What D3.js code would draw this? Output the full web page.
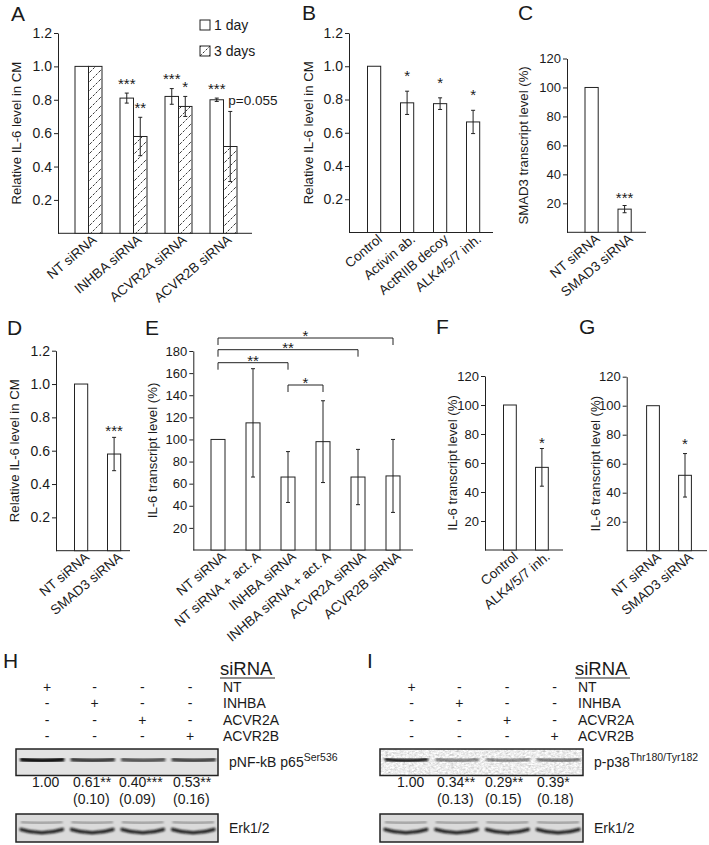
<!DOCTYPE html>
<html><head><meta charset="utf-8">
<script src="https://cdn.jsdelivr.net/npm/d3@7"></script>
<style>
body{margin:0;background:#fff}
svg{display:block}
text{font-family:"Liberation Sans",Arial,Helvetica,sans-serif;fill:#1a1a1a}
</style>
</head><body>
<svg id="fig" width="709" height="845"></svg>
<script>
// ---------------- DATA ----------------
const yTicksCM = [0.2, 0.4, 0.6, 0.8, 1.0, 1.2];
const yTicksPct120 = [20, 40, 60, 80, 100, 120];
const yTicksPct180 = [20, 40, 60, 80, 100, 120, 140, 160, 180];

const aCategories = ["NT siRNA", "INHBA siRNA", "ACVR2A siRNA", "ACVR2B siRNA"];
const aSeries = ["1 day", "3 days"];
const aDay1 = [1.00, 0.81, 0.82, 0.80];
const aDay1Err = [0, 0.03, 0.047, 0.01];
const aDay1Sig = ["", "***", "***", "***"];
const aDay3 = [1.00, 0.58, 0.76, 0.52];
const aDay3Err = [0, 0.115, 0.06, 0.21];
const aDay3Sig = ["", "**", "*", "p=0.055"];

const bCategories = ["Control", "Activin ab.", "ActRIIB decoy", "ALK4/5/7 inh."];
const bValues = [1.00, 0.78, 0.775, 0.665];
const bErr = [0, 0.07, 0.035, 0.07];
const bSig = ["", "*", "*", "*"];

const cCategories = ["NT siRNA", "SMAD3 siRNA"];
const cValues = [100, 16];
const cErr = [0, 2.5];
const cSig = ["", "***"];

const dCategories = ["NT siRNA", "SMAD3 siRNA"];
const dValues = [1.00, 0.58];
const dErr = [0, 0.10];
const dSig = ["", "***"];

const eCategories = ["NT siRNA", "NT siRNA + act. A", "INHBA siRNA", "INHBA siRNA + act. A", "ACVR2A siRNA", "ACVR2B siRNA"];
const eValues = [100, 115, 66, 98, 66, 67];
const eErr = [0, 49, 23, 37, 25, 33];
const eSig = ["", "", "", "", "", ""];
const eBrackets = [[0, 2, "**"], [0, 4, "**"], [0, 5, "*"], [2, 3, "*"]];

const fCategories = ["Control", "ALK4/5/7 inh."];
const fValues = [100, 57];
const fErr = [0, 13];
const fSig = ["", "*"];

const gCategories = ["NT siRNA", "SMAD3 siRNA"];
const gValues = [100, 52];
const gErr = [0, 15];
const gSig = ["", "*"];

const blotLanes = ["NT", "INHBA", "ACVR2A", "ACVR2B"];
const hTarget = ["pNF-kB p65", "Ser536"];
const hValues = [1.00, 0.61, 0.40, 0.53];
const hSD = [null, 0.10, 0.09, 0.16];
const hSig = ["", "**", "***", "**"];
const iTarget = ["p-p38", "Thr180/Tyr182"];
const iValues = [1.00, 0.34, 0.29, 0.39];
const iSD = [null, 0.13, 0.15, 0.18];
const iSig = ["", "**", "**", "*"];

// ---------------- DRAWING ----------------
const svg = d3.select("#fig");
const INK = "#222";
const defs = svg.append("defs");

const pat = defs.append("pattern").attr("id", "hatch").attr("patternUnits", "userSpaceOnUse")
  .attr("width", 9).attr("height", 9);
pat.append("rect").attr("width", 9).attr("height", 9).attr("fill", "#fff");
pat.append("path").attr("d", "M0,9 L9,0 M-2,2 L2,-2 M7,11 L11,7")
  .attr("stroke", "#333").attr("stroke-width", 1).attr("stroke-dasharray", "2.5,1.5");

const blur = defs.append("filter").attr("id", "blur").attr("x", "-20%").attr("y", "-100%").attr("width", "140%").attr("height", "300%");
blur.append("feGaussianBlur").attr("stdDeviation", 1.1);

const grain = defs.append("filter").attr("id", "grain").attr("x", 0).attr("y", 0).attr("width", "100%").attr("height", "100%");
grain.append("feTurbulence").attr("type", "fractalNoise").attr("baseFrequency", "0.35 0.55").attr("numOctaves", 3).attr("seed", 7).attr("result", "n");
grain.append("feColorMatrix").attr("in", "n").attr("type", "matrix")
  .attr("values", "0.33 0.33 0.33 0 0  0.33 0.33 0.33 0 0  0.33 0.33 0.33 0 0  0 0 0 0 1").attr("result", "g");
const ct = grain.append("feComponentTransfer").attr("in", "g").attr("result", "c");
["feFuncR", "feFuncG", "feFuncB"].forEach(f => ct.append(f).attr("type", "linear").attr("slope", 1.3).attr("intercept", 0.2));
grain.append("feComposite").attr("in", "c").attr("in2", "SourceGraphic").attr("operator", "in");

function letter(t, x, y) {
  svg.append("text").attr("x", x).attr("y", y).attr("font-size", 21).text(t);
}

function yAxis(g, y, axisX, ticks, fmt, fs) {
  const ax = d3.axisLeft(y).tickValues(ticks).tickSize(4).tickSizeOuter(0).tickPadding(2).tickFormat(fmt);
  const a = g.append("g").attr("transform", `translate(${axisX},0)`).call(ax);
  a.attr("font-family", null).attr("font-size", null);
  a.selectAll("path,line").attr("stroke", INK).attr("stroke-width", 1);
  a.selectAll("text").attr("font-size", fs).attr("fill", "#1a1a1a");
}

function yTitle(g, text, x, y) {
  g.append("text").attr("transform", `translate(${x},${y}) rotate(-90)`)
    .attr("text-anchor", "middle").attr("dy", "0.35em").attr("font-size", 13.2).text(text);
}

function catLabels(g, cats, cx, base) {
  g.selectAll(null).data(cats).enter().append("text")
    .attr("transform", d => `translate(${cx(d) + 9},${base + 8}) rotate(-40)`)
    .attr("text-anchor", "end").attr("font-size", 13.5).text(d => d);
}

function errBar(g, cx, y, v, e) {
  if (!e) return;
  g.append("line").attr("x1", cx).attr("x2", cx).attr("y1", y(v - e)).attr("y2", y(v + e)).attr("stroke", INK);
  [v - e, v + e].forEach(t => g.append("line").attr("x1", cx - 2).attr("x2", cx + 2)
    .attr("y1", y(t)).attr("y2", y(t)).attr("stroke", INK));
}

function star(g, txt, cx, yTop, gap) {
  if (!txt) return;
  g.append("text").attr("x", cx).attr("y", yTop - gap + 8.7).attr("text-anchor", "middle")
    .attr("font-size", 15).text(txt);
}

function barPanel(o) {
  const g = svg.append("g");
  const x = d3.scaleBand().domain(o.cats).range(o.band).paddingInner(o.pi).paddingOuter(0.3);
  const y = d3.scaleLinear().domain([0, o.max]).range([o.base, o.top]);
  yAxis(g, y, o.axisX, o.ticks, o.fmt, o.fs);
  g.append("line").attr("x1", o.axisX).attr("x2", o.xEnd).attr("y1", o.base).attr("y2", o.base).attr("stroke", INK);
  o.cats.forEach((c, i) => {
    g.append("rect").attr("x", x(c)).attr("width", x.bandwidth()).attr("y", y(o.vals[i]))
      .attr("height", o.base - y(o.vals[i])).attr("fill", "#fff").attr("stroke", INK);
    const cx = x(c) + x.bandwidth() / 2;
    errBar(g, cx, y, o.vals[i], o.errs[i]);
    star(g, o.sig[i], cx, y(o.vals[i] + o.errs[i]), o.gap);
  });
  catLabels(g, o.cats, c => x(c) + x.bandwidth() / 2, o.base);
  yTitle(g, o.title, o.titleX, (o.base + o.top) / 2);
  letter(o.letter, o.lx, o.ly);
  return { g, x, y };
}

// ---- Panel A (grouped) ----
(function () {
  const base = 233.3, top = 33, axisX = 58;
  const g = svg.append("g");
  const x0 = d3.scaleBand().domain(aCategories).range([61.5, 250.5]).paddingInner(0.4).paddingOuter(0.3);
  const x1 = d3.scaleBand().domain(aSeries).range([0, x0.bandwidth()]);
  const y = d3.scaleLinear().domain([0, 1.2]).range([base, top]);
  yAxis(g, y, axisX, yTicksCM, d3.format(".1f"), 14);
  g.append("line").attr("x1", axisX).attr("x2", 252).attr("y1", base).attr("y2", base).attr("stroke", INK);
  const series = [
    { name: aSeries[0], v: aDay1, e: aDay1Err, s: aDay1Sig, fill: "#fff" },
    { name: aSeries[1], v: aDay3, e: aDay3Err, s: aDay3Sig, fill: "url(#hatch)" }
  ];
  series.forEach(sr => {
    aCategories.forEach((c, i) => {
      const bx = x0(c) + x1(sr.name);
      g.append("rect").attr("x", bx).attr("width", x1.bandwidth()).attr("y", y(sr.v[i]))
        .attr("height", base - y(sr.v[i])).attr("fill", sr.fill).attr("stroke", INK);
    });
  });
  series.forEach(sr => {
    aCategories.forEach((c, i) => {
      const cx = x0(c) + x1(sr.name) + x1.bandwidth() / 2;
      errBar(g, cx, y, sr.v[i], sr.e[i]);
      const yt = y(sr.v[i] + sr.e[i]);
      if (sr.s[i].startsWith("p=")) {
        g.append("text").attr("x", cx - 2).attr("y", yt - 6).attr("font-size", 13.5).text(sr.s[i]);
      } else star(g, sr.s[i], cx, yt, 13);
    });
  });
  catLabels(g, aCategories, c => x0(c) + x0.bandwidth() / 2, base);
  yTitle(g, "Relative IL-6 level in CM", 16, (base + top) / 2);
  // legend
  const lg = g.append("g").attr("transform", "translate(200,20)");
  series.forEach((sr, i) => {
    lg.append("rect").attr("x", 0).attr("y", i * 26).attr("width", 10).attr("height", 10)
      .attr("fill", sr.fill).attr("stroke", INK);
    lg.append("text").attr("x", 14).attr("y", i * 26 + 10).attr("font-size", 14).text(sr.name);
  });
  letter("A", 11, 21);
})();

barPanel({ cats: bCategories, vals: bValues, errs: bErr, sig: bSig, band: [357.6, 489.6], pi: 0.6,
  axisX: 349, xEnd: 493, base: 232.5, top: 33, max: 1.2, ticks: yTicksCM, fmt: d3.format(".1f"), fs: 14,
  title: "Relative IL-6 level in CM", titleX: 308, gap: 19, letter: "B", lx: 302, ly: 20 });

barPanel({ cats: cCategories, vals: cValues, errs: cErr, sig: cSig, band: [575.1, 641.1], pi: 0.6,
  axisX: 567, xEnd: 646, base: 232.3, top: 58.5, max: 120, ticks: yTicksPct120, fmt: d3.format("d"), fs: 13,
  title: "SMAD3 transcript level (%)", titleX: 523, gap: 11, letter: "C", lx: 518, ly: 20 });

barPanel({ cats: dCategories, vals: dValues, errs: dErr, sig: dSig, band: [64.6, 130.6], pi: 0.6,
  axisX: 56, xEnd: 130, base: 550.7, top: 350.7, max: 1.2, ticks: yTicksCM, fmt: d3.format(".1f"), fs: 14,
  title: "Relative IL-6 level in CM", titleX: 14, gap: 10, letter: "D", lx: 7, ly: 335 });

const E = barPanel({ cats: eCategories, vals: eValues, errs: eErr, sig: eSig, band: [200.5, 410.5], pi: 0.6,
  axisX: 193.3, xEnd: 413, base: 550, top: 351, max: 180, ticks: yTicksPct180, fmt: d3.format("d"), fs: 13,
  title: "IL-6 transcript level (%)", titleX: 152, gap: 10, letter: "E", lx: 145, ly: 335 });

// brackets for E
(function () {
  const bracketY = [362.7, 349.7, 338, 385];
  const drop = 7;
  const cx = i => E.x(eCategories[i]) + E.x.bandwidth() / 2;
  eBrackets.forEach((b, k) => {
    const ya = bracketY[k], xa = cx(b[0]), xb = cx(b[1]);
    E.g.append("path").attr("d", `M${xa},${ya + drop}V${ya}H${xb}V${ya + drop}`)
      .attr("fill", "none").attr("stroke", INK);
    E.g.append("text").attr("x", (xa + xb) / 2).attr("y", ya + 3).attr("text-anchor", "middle")
      .attr("font-size", 15).text(b[2]);
  });
})();

barPanel({ cats: fCategories, vals: fValues, errs: fErr, sig: fSig, band: [493.9, 557.9], pi: 0.6,
  axisX: 485, xEnd: 563, base: 550, top: 376, max: 120, ticks: yTicksPct120, fmt: d3.format("d"), fs: 13,
  title: "IL-6 transcript level (%)", titleX: 452, gap: 9, letter: "F", lx: 436, ly: 334 });

barPanel({ cats: gCategories, vals: gValues, errs: gErr, sig: gSig, band: [637, 701], pi: 0.6,
  axisX: 626.7, xEnd: 707, base: 550.7, top: 376.7, max: 120, ticks: yTicksPct120, fmt: d3.format("d"), fs: 13,
  title: "IL-6 transcript level (%)", titleX: 595, gap: 13, letter: "G", lx: 579, ly: 334 });

// ---- Blots ----
function blotPanel(o) {
  const g = svg.append("g");
  letter(o.letter, o.lx, 668);
  // header
  g.append("text").attr("x", o.labelX - 3).attr("y", 675).attr("font-size", 18.5).text("siRNA");
  g.append("line").attr("x1", o.labelX - 3).attr("x2", o.labelX + 52).attr("y1", 678).attr("y2", 678)
    .attr("stroke", INK).attr("stroke-width", 1.2);
  const rowY = d3.scalePoint().domain(blotLanes).range([692, 741]);
  const colX = d3.scalePoint().domain(blotLanes).range(o.cols);
  blotLanes.forEach((r, ri) => {
    g.append("text").attr("x", o.labelX).attr("y", rowY(r)).attr("font-size", 14).text(r);
    blotLanes.forEach((c, ci) => {
      g.append("text").attr("x", colX(c)).attr("y", rowY(r)).attr("text-anchor", "middle")
        .attr("font-size", 14).text(ri === ci ? "+" : "-");
    });
  });
  const lane = d3.scaleBand().domain(blotLanes).range([o.bx0, o.bx1]);
  // target blot
  const t0 = 749, t1 = 775.5;
  if (o.grainy) {
    g.append("rect").attr("x", o.bx0).attr("y", t0).attr("width", o.bx1 - o.bx0).attr("height", t1 - t0)
      .attr("fill", "#000").attr("filter", "url(#grain)");
  } else {
    g.append("rect").attr("x", o.bx0).attr("y", t0).attr("width", o.bx1 - o.bx0).attr("height", t1 - t0)
      .attr("fill", "#e2e2e2");
  }
  blotLanes.forEach((c, i) => {
    const a = lane(c) + 6, b = lane(c) + lane.bandwidth() - 4, m = (a + b) / 2, yc = o.bandY;
    g.append("path").attr("d", `M${a},${yc - 0.5}Q${m},${yc + 1.5} ${b},${yc - 0.5}`)
      .attr("fill", "none").attr("stroke", "#111").attr("stroke-width", o.bandW)
      .attr("stroke-linecap", "round").attr("opacity", o.minOp + (1 - o.minOp) * o.vals[i])
      .attr("filter", "url(#blur)");
  });
  g.append("rect").attr("x", o.bx0).attr("y", t0).attr("width", o.bx1 - o.bx0).attr("height", t1 - t0)
    .attr("fill", "none").attr("stroke", INK).attr("stroke-width", 1.5);
  const tl = g.append("text").attr("x", o.bx1 + 11).attr("y", 767).attr("font-size", 14);
  tl.append("tspan").text(o.target[0]);
  tl.append("tspan").attr("dy", -6).attr("font-size", 10.5).text(o.target[1]);
  // quantification
  blotLanes.forEach((c, i) => {
    const v = d3.format(".2f")(o.vals[i]) + o.sig[i];
    g.append("text").attr("x", o.numX[i]).attr("y", 787).attr("font-size", 14).text(v);
    if (o.sd[i] != null) {
      g.append("text").attr("x", o.numX[i]).attr("y", 804).attr("font-size", 14)
        .text("(" + d3.format(".2f")(o.sd[i]) + ")");
    }
  });
  // Erk loading control
  const e0 = 814, e1 = 842;
  g.append("rect").attr("x", o.bx0).attr("y", e0).attr("width", o.bx1 - o.bx0).attr("height", e1 - e0)
    .attr("fill", "#dadada");
  blotLanes.forEach(c => {
    const a = lane(c) + 5, b = lane(c) + lane.bandwidth() - 4, m = (a + b) / 2;
    g.append("path").attr("d", `M${a},822Q${m},824 ${b},822`).attr("fill", "none")
      .attr("stroke", "#888").attr("stroke-width", 2).attr("filter", "url(#blur)");
    g.append("path").attr("d", `M${a},829.5Q${m},836 ${b},829.5`).attr("fill", "none")
      .attr("stroke", "#111").attr("stroke-width", 3.2).attr("stroke-linecap", "round").attr("filter", "url(#blur)");
  });
  g.append("rect").attr("x", o.bx0).attr("y", e0).attr("width", o.bx1 - o.bx0).attr("height", e1 - e0)
    .attr("fill", "none").attr("stroke", INK).attr("stroke-width", 1.5);
  g.append("text").attr("x", o.bx1 + 11).attr("y", 833).attr("font-size", 14).text("Erk1/2");
}

blotPanel({ letter: "H", lx: 3, labelX: 223, cols: [47, 190], bx0: 16, bx1: 218, vals: hValues, sd: hSD,
  sig: hSig, target: hTarget, numX: [32, 73, 119, 173], grainy: false, bandY: 760, bandW: 4.5, minOp: 0.45 });
blotPanel({ letter: "I", lx: 367, labelX: 578, cols: [411.7, 554.7], bx0: 380, bx1: 583, vals: iValues, sd: iSD,
  sig: iSig, target: iTarget, numX: [397, 437, 485, 537], grainy: true, bandY: 760, bandW: 3.5, minOp: 0.3 });
</script>
</body></html>
